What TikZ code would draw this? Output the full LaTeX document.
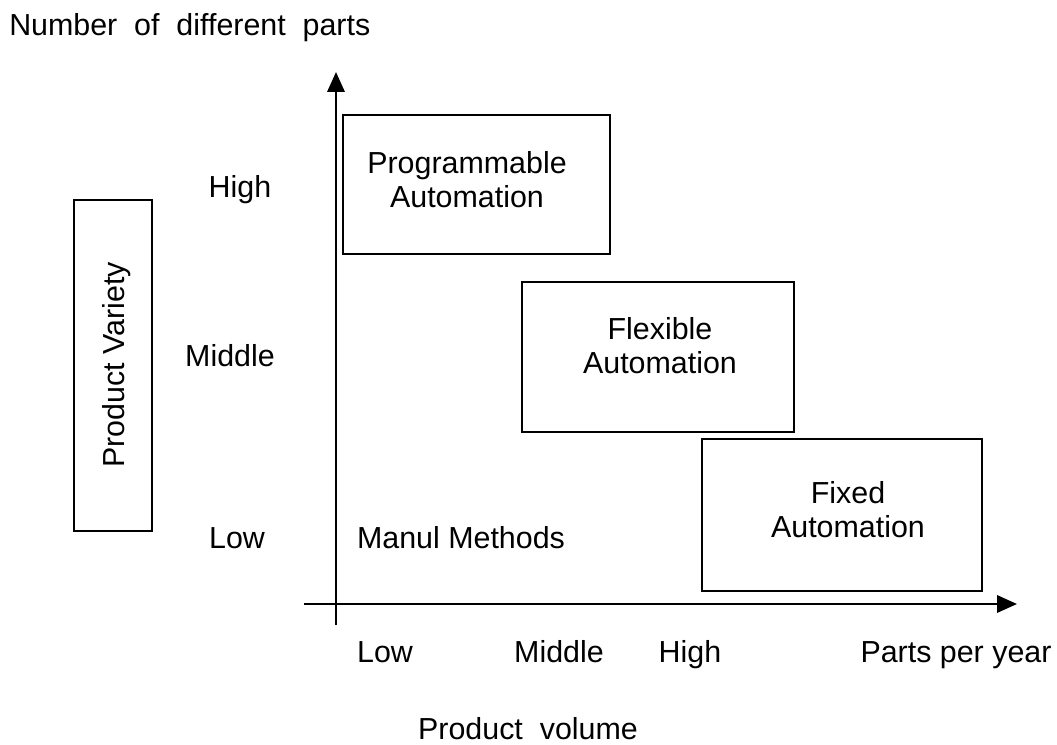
\documentclass[tikz,border=0pt]{standalone}
\usepackage{fontspec}
\setmainfont{Liberation Sans}
\usetikzlibrary{arrows.meta}

\tikzset{
  lbl/.style={inner sep=0.75pt, font=\fontsize{22.8}{25.5}\selectfont, align=center},
  tick/.style={lbl, anchor=base},
  area/.style={draw, line width=1.5pt, inner sep=0pt},
  axis/.style={line width=1.8pt, -{Triangle[length=15pt,width=13pt]}}
}

\begin{document}
\begin{tikzpicture}[x=0.75pt,y=0.75pt,yscale=-1,xscale=1]
\useasboundingbox (0,0) rectangle (1057,745);

%Axes
\coordinate (yfoot) at (336,625);
\coordinate (ytop) at (336,72);
\coordinate (xfoot) at (304,604);
\coordinate (xtop) at (1017,604);
\draw [axis] (yfoot) -- (ytop);
\draw [axis] (xfoot) -- (xtop);

%Shape: Rectangle boxes
\node [area, minimum width=200pt, minimum height=104.25pt] (prog) at (476.5,184.5) {};
\node [area, minimum width=204pt, minimum height=112.5pt] (flex) at (658,357) {};
\node [area, minimum width=210pt, minimum height=114pt] (fixed) at (842,515) {};
\node [area, minimum width=58.5pt, minimum height=248.25pt] (variety) at (113,365.5) {};

% Text Node
\node [lbl] (progtxt) at (467,180) {Programmable\\Automation};
% Text Node
\node [lbl] (flextxt) at (660,346) {Flexible\\Automation};
% Text Node
\node [lbl] (fixedtxt) at (848,510) {Fixed\\Automation};
% Text Node
\node [lbl, rotate=90] (varietytxt) at (117,365) {Product Variety};
% Text Node
\node [tick] (manual) at (461,548) {Manul Methods};

% Text Node
\node [lbl, anchor=west] (title) at (8,28) {Number~ of~ different~ parts};
\node [tick] (yhigh) at (240,198) {High};
\node [tick] (ymid) at (230,367) {Middle};
\node [tick] (ylow) at (237,548) {Low};

% Text Node
\node [tick] (xlow) at (385,662) {Low};
\node [tick] (xmid) at (559,662) {Middle};
\node [tick] (xhigh) at (690,662) {High};
\node [tick] (xunit) at (956,662) {Parts per year};
\node [tick, inner sep=0pt] (volume) at (528,739) {Product~ volume};

\end{tikzpicture}
\end{document}
